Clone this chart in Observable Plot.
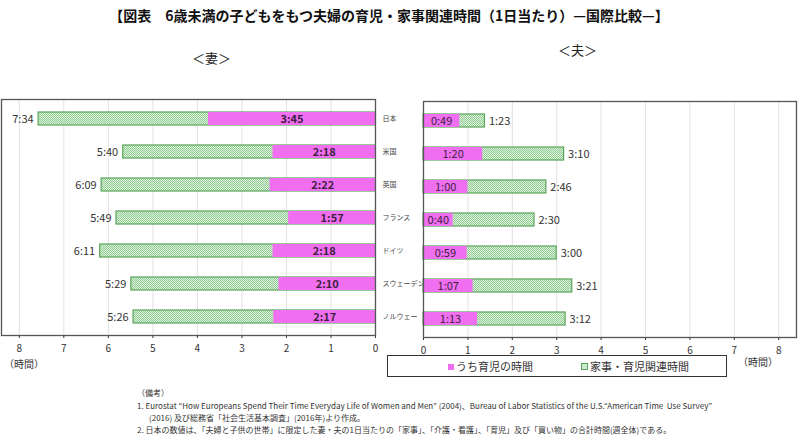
<!DOCTYPE html>
<html><head><meta charset="utf-8">
<script src="https://cdn.jsdelivr.net/npm/d3@7"></script>
<script src="https://cdn.jsdelivr.net/npm/@observablehq/plot@0.6"></script>
<style>
body{margin:0;background:#fff;}
#root{position:relative;width:800px;height:439px;overflow:hidden;background:#fff;font-family:"Noto Sans CJK JP","Noto Sans",sans-serif;color:#222;}
.abs{position:absolute;white-space:nowrap;}
#title{top:5px;left:0;width:778px;text-align:center;font-size:14px;font-weight:bold;color:#111;}
.panel{position:absolute;top:0;}
.notes{font-size:8px;color:#333;line-height:12px;}
#legend{left:387px;top:355px;width:338px;height:20px;border:1.5px solid #333;font-size:11px;color:#333;}
.sw{display:inline-block;width:6px;height:6px;margin-right:2px;vertical-align:1px;}
</style></head>
<body>
<div id="root">
<svg width="0" height="0" style="position:absolute">
 <defs>
  <pattern id="chk" width="2" height="2" patternUnits="userSpaceOnUse">
   <rect width="2" height="2" fill="#e2f2e2"/>
   <rect width="1" height="1" fill="#8ecb8e"/>
   <rect x="1" y="1" width="1" height="1" fill="#8ecb8e"/>
  </pattern>
 </defs>
</svg>
<div id="title" class="abs">【図表　6歳未満の子どもをもつ夫婦の育児・家事関連時間（1日当たり）—国際比較—】</div>
<div class="abs" style="left:192px;top:48px;font-size:13px;">＜妻＞</div>
<div class="abs" style="left:558px;top:40px;font-size:13px;">＜夫＞</div>
<div id="left" class="panel" style="left:0px;"></div>
<div id="right" class="panel" style="left:400px;"></div>
<div class="abs" style="left:4px;top:356px;font-size:10px;color:#333;">（時間）</div>
<div class="abs" style="left:738px;top:354px;font-size:10px;color:#333;">（時間）</div>
<div id="legend" class="abs">
 <span class="abs" style="left:60px;top:2px;"><span class="sw" style="background:#ef6ff0"></span>うち育児の時間</span>
 <span class="abs" style="left:193px;top:2px;"><span class="sw" style="background:#cfe9cf;border:1px solid #5aa55a;width:5px;height:5px;"></span>家事・育児関連時間</span>
</div>
<div class="abs notes" style="left:137px;top:387px;">（備考）</div>
<div class="abs notes" style="left:137px;top:400px;">1. Eurostat “How Europeans Spend Their Time Everyday Life of Women and Men” (2004)、Bureau of Labor Statistics of the U.S.“American Time&nbsp; Use Survey”</div>
<div class="abs notes" style="left:149px;top:412px;">(2016) 及び総務省「社会生活基本調査」(2016年)より作成。</div>
<div class="abs notes" style="left:137px;top:424px;">2. 日本の数値は、「夫婦と子供の世帯」に限定した妻・夫の1日当たりの「家事」、「介護・看護」、「育児」及び「買い物」の合計時間(週全体)である。</div>
</div>
<script>
const countries = ["日本","米国","英国","フランス","ドイツ","スウェーデン","ノルウェー"];
const wifeTotal = ["7:34","5:40","6:09","5:49","6:11","5:29","5:26"];
const wifeChild = ["3:45","2:18","2:22","1:57","2:18","2:10","2:17"];
const husbandChild = ["0:49","1:20","1:00","0:40","0:59","1:07","1:13"];
const husbandTotal = ["1:23","3:10","2:46","2:30","3:00","3:21","3:12"];
const xTicks = [0,1,2,3,4,5,6,7,8];

const PINK = "#ef6ff0";
const GREEN = "#5aa55a";
const toH = s => { const [h,m] = s.split(":").map(Number); return h + m/60; };
const rows = countries.map((c,i)=>({
  c,
  wt: toH(wifeTotal[i]), wtL: wifeTotal[i],
  wc: toH(wifeChild[i]), wcL: wifeChild[i],
  hc: toH(husbandChild[i]), hcL: husbandChild[i],
  ht: toH(husbandTotal[i]), htL: husbandTotal[i]
}));
const font = '"Noto Sans CJK JP","Noto Sans",sans-serif';
const yOpt = {domain: countries, paddingInner: 0.62, paddingOuter: 0.31, axis: null};

const left = Plot.plot({
  width: 445, height: 360,
  marginLeft: 1, marginRight: 70, marginTop: 99, marginBottom: 25,
  style: {background: "transparent", fontFamily: font, fontSize: "10px", color: "#333", overflow: "visible"},
  x: {domain: [0, 8.4], reverse: true, ticks: xTicks, tickFormat: d => d, tickSize: 3, label: null},
  y: yOpt,
  marks: [
    Plot.ruleX(xTicks.slice(1), {stroke: "#e2e2e2", strokeWidth: 1}),
    Plot.barX(rows, {x: "wt", y: "c", fill: "url(#chk)", stroke: GREEN, strokeWidth: 1.2}),
    Plot.barX(rows, {x: "wc", y: "c", fill: PINK}),
    Plot.text(rows, {x: "wt", y: "c", text: "wtL", textAnchor: "end", dx: -5, fontSize: 11, fill: "#333"}),
    Plot.text(rows, {x: d => d.wc/2, y: "c", text: "wcL", fontSize: 11, fontWeight: "bold", fill: "#3d1f40"}),
    Plot.text(rows, {x: 0, y: "c", text: "c", textAnchor: "start", dx: 7, fontSize: 7, fill: "#444"}),
    Plot.frame({stroke: "#555", strokeWidth: 1.3})
  ]
});
document.getElementById("left").appendChild(left);

const right = Plot.plot({
  width: 400, height: 360,
  marginLeft: 23, marginRight: 4, marginTop: 101, marginBottom: 23,
  style: {background: "transparent", fontFamily: font, fontSize: "10px", color: "#333"},
  x: {domain: [0, 8.4], ticks: xTicks, tickFormat: d => d, tickSize: 3, label: null},
  y: yOpt,
  marks: [
    Plot.ruleX(xTicks.slice(1), {stroke: "#e2e2e2", strokeWidth: 1}),
    Plot.barX(rows, {x: "ht", y: "c", fill: "url(#chk)", stroke: GREEN, strokeWidth: 1.2}),
    Plot.barX(rows, {x: "hc", y: "c", fill: PINK}),
    Plot.text(rows, {x: "ht", y: "c", text: "htL", textAnchor: "start", dx: 4, fontSize: 11, fill: "#333"}),
    Plot.text(rows, {x: d => d.hc/2, y: "c", text: "hcL", fontSize: 11, fill: "#3d1f40"}),
    Plot.frame({stroke: "#555", strokeWidth: 1.3})
  ]
});
document.getElementById("right").appendChild(right);
</script>
</body></html>
